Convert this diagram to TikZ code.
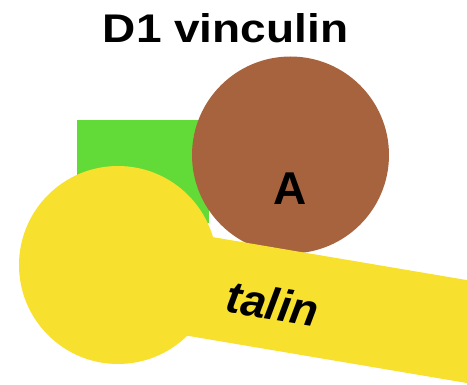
\documentclass[tikz,border=0pt]{standalone}
\usepackage{fontspec}
\setmainfont{Liberation Sans}
\usepackage{tikz}
\definecolor{vinGreen}{RGB}{98,218,55}
\definecolor{vinBrown}{RGB}{167,99,61}
\definecolor{talYellow}{RGB}{248,224,47}

\begin{document}
\begin{tikzpicture}[x=1pt, y=-1pt, every node/.style={inner sep=0pt, outer sep=0pt},
	domain/.style={draw=none, fill=#1},
	lbl/.style={font=\fontsize{#1}{#1}\selectfont\bfseries}]
	\useasboundingbox (0,0) rectangle (467,385);
	\clip (0,0) rectangle (467,385);
	\node[lbl=40, anchor=base, xscale=1.15] (title) at (225.5,43) {D1 vinculin};
	% vinculin D1 domains
	\node[domain=vinGreen, rectangle, minimum width=132pt, minimum height=103pt] (green) at (143,171.5) {};
	\node[domain=vinBrown, circle, minimum size=197pt] (A) at (290.5,155) {};
	\node[lbl=46, anchor=base] (Alabel) at (290,205) {A};
	% talin rod and head
	\node[domain=talYellow, rectangle, rotate=-9.6, minimum width=420pt, minimum height=101.5pt] (rod) at (330,308.4) {};
	\node[domain=talYellow, circle, minimum size=198pt] (head) at (118,265) {};
	\node[font=\fontsize{45}{45}\selectfont\bfseries\itshape, anchor=base, rotate=-9.6] (talin) at (270,319.7) {talin};
\end{tikzpicture}
\end{document}
